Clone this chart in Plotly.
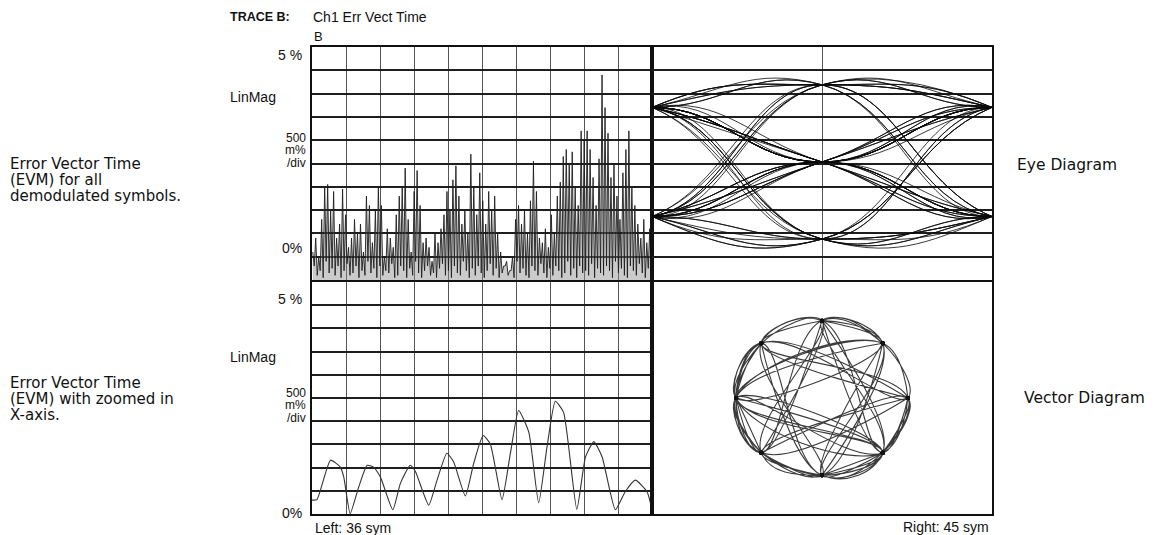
import numpy as np
import plotly.graph_objects as go

W, H = 1159, 535

# ---------------- data ----------------
# EVM (%) for all demodulated symbols: local peaks and the low points between them
evm_peaks = [0.6, 0.9, 0.5, 1.3, 2.0, 2.05, 1.5, 1.9, 0.9, 1.2, 1.95, 1.4, 0.7, 0.9, 1.3, 1.0,
             1.2, 0.6, 1.8, 1.6, 0.8, 1.5, 2.0, 1.6, 0.5, 1.1, 0.9, 0.7, 1.4, 1.8, 2.0, 2.4,
             1.3, 0.6, 1.9, 2.35, 1.6, 0.8, 0.9, 0.7, 0.4, 1.0, 0.8, 1.1, 1.4, 1.9, 1.5, 2.15,
             2.45, 1.8, 1.2, 1.5, 1.0, 2.7, 2.0, 1.4, 2.3, 1.7, 1.2, 1.9, 1.5, 1.8, 1.0, 0.6,
             0.3, 0.4, 0.2, 0.5, 1.3, 1.6, 1.2, 1.5, 1.0, 1.7, 2.55, 1.9, 0.9, 0.8, 1.1, 0.7,
             1.4, 1.0, 1.8, 2.1, 2.65, 2.8, 2.5, 2.75, 2.0, 1.6, 3.2, 3.0, 3.2, 2.8, 2.2, 1.6,
             2.6, 4.4, 3.7, 3.15, 2.2, 2.5, 1.8, 1.3, 2.3, 2.8, 3.2, 2.0, 1.6, 1.2, 0.9, 1.3,
             0.8, 1.1]
evm_lows = [0.3, 0.1, 0.2, 0.05, 0.4, 0.15, 0.25, 0.1, 0.3, 0.05, 0.2, 0.35, 0.1, 0.15, 0.3, 0.05,
            0.2, 0.1, 0.4, 0.15, 0.25, 0.05, 0.3, 0.1, 0.2, 0.15, 0.35, 0.05, 0.1, 0.3, 0.2, 0.05,
            0.25, 0.1, 0.4, 0.15, 0.05, 0.2, 0.3, 0.1, 0.15, 0.05, 0.25, 0.35, 0.1, 0.2, 0.05, 0.3,
            0.15, 0.1, 0.4, 0.2, 0.05, 0.25, 0.1, 0.3, 0.15, 0.05, 0.2, 0.35, 0.1, 0.25, 0.05, 0.15,
            0.3, 0.1, 0.2, 0.05, 0.4, 0.15, 0.25, 0.1, 0.05, 0.3, 0.2, 0.1, 0.35, 0.15, 0.05, 0.25,
            0.1, 0.3, 0.2, 0.05, 0.15, 0.4, 0.1, 0.25, 0.05, 0.3, 0.15, 0.2, 0.1, 0.35, 0.05, 0.25,
            0.15, 0.1, 0.3, 0.2, 0.05, 0.4, 0.15, 0.25, 0.1, 0.05, 0.3, 0.2, 0.1, 0.35, 0.15, 0.05,
            0.25, 0.1]

# EVM (%) zoomed in, symbols 36 .. 45
zoom_sym = [36.0, 36.13, 36.49, 36.75, 36.84, 37.01, 37.24, 37.46, 37.63, 37.81, 38.14, 38.34,
            38.60, 38.74, 39.09, 39.31, 39.57, 39.75, 40.06, 40.28, 40.53, 40.72, 41.03, 41.25,
            41.47, 41.74, 42.0, 42.22, 42.44, 42.66, 43.01, 43.24, 43.46, 43.68, 44.03, 44.29,
            44.56, 44.87, 45.0]
zoom_evm = [0.30, 0.31, 1.16, 1.01, 0.80, 0.01, 0.59, 1.05, 1.01, 0.80, 0.09, 0.66,
            1.05, 0.91, 0.19, 0.73, 1.31, 1.12, 0.39, 1.09, 1.69, 1.51, 0.31, 1.30,
            2.23, 1.76, 0.24, 1.44, 2.43, 2.19, 0.10, 1.23, 1.56, 1.23, 0.09, 0.48,
            0.73, 0.48, 0.09]

# pi/4-DQPSK phase steps between symbols (units of 45 degrees)
start_phase = 1
dphase = [1, 3, -1, -3, 3, 1, -1, 1, -3, 3, -1, -1, 3, 1, -3, 1, 1, -1, 3, -3,
          -1, 3, 1, -1, -3, -1, 3, 1, 1, -3, 3, -1, 1, 3, -1, -3, 1, -1, 3, 1,
          -3, -1, 1, 3, -1, 1, -3, 3, 1, -1, -1, 3, -3, 1, 3, -1, 1, -3, -1, 3,
          1, 1, -3, 3, -1, -1, 1, 3, -3, 1, -1, 3, 1, -1, -3, 3, 1, -1, 3, -1,
          -3, 1, 1, 3, -1, -3, -1, 1, 3, 3, -1, 1, -3, -1, 1, 1, 3, -3, -1, 3,
          1, -1, -1, -3, 3, 1, 3, -1, -3, 1, -1, 1, 3, -3, 1, -1, 3, 1, -3, -1]

# ---------------- helpers ----------------
def fx(p):
    return p / W

def fy(p):
    return 1 - p / H

LEFT = [fx(312), fx(652)]
RIGHT = [fx(652), fx(992)]
TOP = [fy(280), fy(47)]
BOT = [fy(514), fy(282)]

fig = go.Figure()

# top-left: EVM for all symbols
n = min(len(evm_peaks), len(evm_lows))
ex, ey = [], []
for i in range(n):
    ex += [i + 0.25, i + 0.75]
    ey += [evm_peaks[i], evm_lows[i]]
fig.add_trace(go.Scatter(x=ex, y=ey, mode="lines", xaxis="x", yaxis="y",
                         fill="tozeroy", fillcolor="rgba(140,140,140,0.45)",
                         line=dict(color="#1e1e1e", width=0.9), hoverinfo="skip"))

# symbol phases
ph = np.concatenate([[start_phase], start_phase + np.cumsum(dphase)]) % 8
Ivals = np.cos(ph * np.pi / 4)
Qvals = np.sin(ph * np.pi / 4)

# top-right: eye diagram (I) over two symbols
eyx, eyy = [], []
for k in range(1, len(ph) - 1, 2):
    for j in range(max(k - 2, 0), min(k + 3, len(ph))):
        eyx.append(j - k)
        eyy.append(Ivals[j])
    eyx.append(None)
    eyy.append(None)
fig.add_trace(go.Scatter(x=eyx, y=eyy, mode="lines", xaxis="x2", yaxis="y2",
                         line=dict(color="rgba(10,10,10,0.8)", width=1.0,
                                   shape="spline", smoothing=1.3),
                         connectgaps=False, hoverinfo="skip"))

# bottom-left: zoomed EVM
fig.add_trace(go.Scatter(x=zoom_sym, y=zoom_evm, mode="lines", xaxis="x3", yaxis="y3",
                         line=dict(color="#333333", width=1.1, shape="spline", smoothing=0.5),
                         hoverinfo="skip"))

# bottom-right: vector diagram
fig.add_trace(go.Scatter(x=Ivals, y=Qvals, mode="lines", xaxis="x4", yaxis="y4",
                         line=dict(color="rgba(10,10,10,0.8)", width=1.1,
                                   shape="spline", smoothing=1.3),
                         hoverinfo="skip"))
fig.add_trace(go.Scatter(x=Ivals, y=Qvals, mode="markers", xaxis="x4", yaxis="y4",
                         marker=dict(color="#111111", size=4), hoverinfo="skip"))

frame = dict(showline=True, mirror=True, linecolor="#111111", linewidth=1.5,
             zeroline=False, showticklabels=False, ticks="", fixedrange=True)
vgrid = dict(showgrid=True, gridcolor="#555555", gridwidth=1)
hgrid = dict(showgrid=True, gridcolor="#1e1e1e", gridwidth=1.6)

fig.update_layout(
    width=W, height=H,
    margin=dict(l=0, r=0, t=0, b=0),
    paper_bgcolor="white", plot_bgcolor="white",
    showlegend=False,
    xaxis=dict(domain=LEFT, range=[0, n], tick0=0, dtick=n / 10, anchor="y", **frame, **vgrid),
    yaxis=dict(domain=TOP, range=[0, 5], tick0=0, dtick=0.5, anchor="x", **frame, **hgrid),
    xaxis2=dict(domain=RIGHT, range=[-1, 1], tick0=-1, dtick=1, anchor="y2", **frame, **vgrid),
    yaxis2=dict(domain=TOP, range=[-1.53, 1.49], tick0=-1.53, dtick=0.302, anchor="x2", **frame, **hgrid),
    xaxis3=dict(domain=LEFT, range=[36, 45], tick0=36, dtick=0.9, anchor="y3", **frame, **vgrid),
    yaxis3=dict(domain=BOT, range=[0, 5], tick0=0, dtick=0.5, anchor="x3", **frame, **hgrid),
    xaxis4=dict(domain=RIGHT, range=[-1.98, 1.98], anchor="y4", showgrid=False, **frame),
    yaxis4=dict(domain=BOT, range=[-1.5, 1.5], anchor="x4", showgrid=False, **frame),
)

FONT = "Liberation Sans, Arial, sans-serif"
FONT2 = "DejaVu Sans, Verdana, sans-serif"

def label(text, x, y, xanchor="left", size=14, bold=False, family=FONT):
    t = f"<b>{text}</b>" if bold else text
    fig.add_annotation(text=t, x=fx(x), y=fy(y), xref="paper", yref="paper",
                       xanchor=xanchor, yanchor="middle", showarrow=False,
                       font=dict(family=family, size=size, color="#111111"))

# header
label("TRACE B:", 228, 17, bold=True, size=12.5)
label("Ch1 Err Vect Time", 311, 17, size=14)
label("B", 312, 37, size=13)

# top panel axis labels
label("5 %", 304, 55, xanchor="right")
label("LinMag", 228, 97)
label("500", 308, 138, xanchor="right", size=12)
label("m%", 308, 150, xanchor="right", size=12)
label("/div", 308, 163, xanchor="right", size=12)
label("0%", 304, 248, xanchor="right")

# bottom panel axis labels
label("5 %", 304, 299, xanchor="right")
label("LinMag", 228, 357)
label("500", 308, 393, xanchor="right", size=12)
label("m%", 308, 405, xanchor="right", size=12)
label("/div", 308, 418, xanchor="right", size=12)
label("0%", 304, 513, xanchor="right")

label("Left: 36 sym", 313, 528, size=14)
label("Right: 45 sym", 991, 527, xanchor="right", size=14)

# descriptions
label("Error Vector Time", 8, 164, size=15, family=FONT2)
label("(EVM) for all", 8, 180, size=15, family=FONT2)
label("demodulated symbols.", 8, 196, size=15, family=FONT2)
label("Error Vector Time", 8, 383, size=15, family=FONT2)
label("(EVM) with zoomed in", 8, 399, size=15, family=FONT2)
label("X-axis.", 8, 415, size=15, family=FONT2)
label("Eye Diagram", 1015, 165, size=15.5, family=FONT2)
label("Vector Diagram", 1022, 398, size=15.5, family=FONT2)

fig.write_html("out.html")
